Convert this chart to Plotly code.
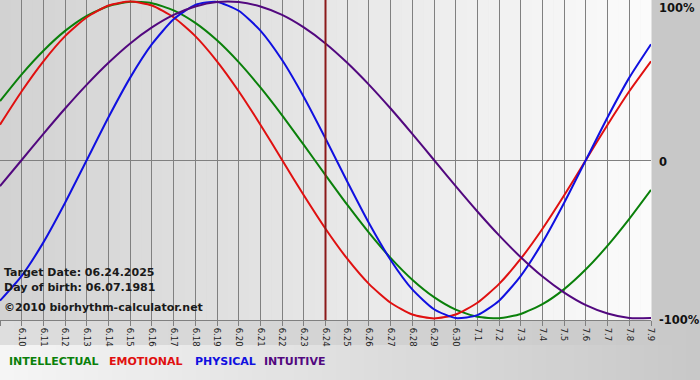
import plotly.graph_objects as go

# ---------------- data ----------------
dates = ["6.9", "6.10", "6.11", "6.12", "6.13", "6.14", "6.15", "6.16", "6.17", "6.18",
         "6.19", "6.20", "6.21", "6.22", "6.23", "6.24", "6.25", "6.26", "6.27", "6.28",
         "6.29", "6.30", "7.1", "7.2", "7.3", "7.4", "7.5", "7.6", "7.7", "7.8", "7.9"]

intellectual = [0.372, 0.541, 0.690, 0.815, 0.910, 0.972, 0.999, 0.990, 0.945, 0.866,
                0.756, 0.618, 0.458, 0.282, 0.095, -0.095, -0.282, -0.458, -0.618, -0.756,
                -0.866, -0.945, -0.990, -0.999, -0.972, -0.910, -0.815, -0.690, -0.541, -0.372,
                -0.189]
emotional = [0.223, 0.434, 0.623, 0.782, 0.901, 0.975, 1.000, 0.975, 0.901, 0.782,
             0.623, 0.434, 0.223, 0.000, -0.223, -0.434, -0.623, -0.782, -0.901, -0.975,
             -1.000, -0.975, -0.901, -0.782, -0.623, -0.434, -0.223, 0.000, 0.223, 0.434,
             0.623]
physical = [-0.888, -0.731, -0.520, -0.270, 0.000, 0.270, 0.520, 0.731, 0.888, 0.979,
            0.998, 0.942, 0.817, 0.631, 0.398, 0.136, -0.136, -0.398, -0.631, -0.817,
            -0.942, -0.998, -0.979, -0.888, -0.731, -0.520, -0.270, 0.000, 0.270, 0.520,
            0.731]
intuitive = [-0.165, 0.000, 0.165, 0.325, 0.476, 0.614, 0.736, 0.837, 0.916, 0.969,
             0.997, 0.997, 0.969, 0.916, 0.837, 0.736, 0.614, 0.476, 0.325, 0.165,
             0.000, -0.165, -0.325, -0.476, -0.614, -0.736, -0.837, -0.916, -0.969, -0.997,
             -0.997]

series_names = ["INTELLECTUAL", "EMOTIONAL", "PHYSICAL", "INTUITIVE"]
target_date = "6.24"
info_lines = ["Target Date: 06.24.2025", "Day of birth: 06.07.1981",
              "\u00a92010 biorhythm-calculator.net"]
right_tick_vals = [1, 0, -1]
right_tick_text = ["100%", "0", "-100%"]

# ---------------- styling ----------------
W, H = 700, 380
PW, PH = 651, 320          # plot area in pixels
colors = ["#0a800a", "#e01010", "#1010e0", "#52087f"]
FONT = "DejaVu Sans"

x = list(range(len(dates)))
series = [intellectual, emotional, physical, intuitive]

fig = go.Figure()
for name, vals, col in zip(series_names, series, colors):
    fig.add_trace(go.Scatter(x=x, y=vals, mode="lines", name=name,
                             line=dict(color=col, width=2, shape="spline", smoothing=0.6),
                             hoverinfo="skip"))

ti = dates.index(target_date)
fig.add_trace(go.Scatter(x=[ti, ti], y=[-1.02, 1.02], mode="lines",
                         line=dict(color="#8b1a1a", width=2), hoverinfo="skip"))


def px_x(px):
    return px / PW


def px_y(py):
    return (PH - py) / PH


def grey(v):
    v = int(round(v))
    return f"rgb({v},{v},{v})"


shapes = []
# plot-area horizontal gradient (grey -> white)
n = 60
for i in range(n):
    x0 = PW * i / n
    x1 = PW * (i + 1) / n + 0.5
    c = 210 + (251 - 210) * (i + 0.5) / n
    shapes.append(dict(type="rect", xref="paper", yref="paper", layer="below",
                       x0=px_x(x0), x1=px_x(x1), y0=0, y1=1,
                       fillcolor=grey(c), line=dict(width=0)))
# bottom strips
for (ya, yb, ca, cb) in [(PH, 345, 222, 200), (345, H, 245, 200)]:
    m = 50
    for i in range(m):
        x0 = W * i / m
        x1 = W * (i + 1) / m + 0.5
        c = ca + (cb - ca) * (i + 0.5) / m
        shapes.append(dict(type="rect", xref="paper", yref="paper", layer="below",
                           x0=px_x(x0), x1=px_x(x1), y0=px_y(yb), y1=px_y(ya),
                           fillcolor=grey(c), line=dict(width=0)))

annotations = []
# right axis labels
for v, t in zip(right_tick_vals, right_tick_text):
    if v == 1:
        annotations.append(dict(x=1, xref="paper", y=1, yref="paper", text=t,
                                xanchor="left", yanchor="top", xshift=6, yshift=1,
                                showarrow=False,
                                font=dict(family=FONT, size=11.5, color="#111111", weight="bold")))
    else:
        annotations.append(dict(x=1, xref="paper", y=v, yref="y", text=t,
                                xanchor="left", yanchor="middle", xshift=6, yshift=-1.5,
                                showarrow=False,
                                font=dict(family=FONT, size=11.5, color="#111111", weight="bold")))
# info text
for txt, cy in zip(info_lines, [272.5, 287, 307]):
    annotations.append(dict(x=px_x(2), xref="paper", y=px_y(cy), yref="paper", text=txt,
                            xanchor="left", yanchor="middle", showarrow=False,
                            font=dict(family=FONT, size=11, color="#1a1a1a", weight="bold")))
# legend words
for name, col, lx in zip(series_names, colors, [7, 107, 193, 262]):
    annotations.append(dict(x=px_x(lx), xref="paper", y=px_y(361), yref="paper", text=name,
                            xanchor="left", yanchor="middle", showarrow=False,
                            font=dict(family=FONT, size=11, color=col, weight="bold")))

fig.update_layout(
    width=W, height=H,
    margin=dict(l=0, r=W - PW, t=0, b=H - PH),
    paper_bgcolor="#c8c8c8",
    plot_bgcolor="rgba(0,0,0,0)",
    showlegend=False,
    shapes=shapes,
    annotations=annotations,
    xaxis=dict(range=[0, len(dates) - 1], tickmode="array", tickvals=x, ticktext=dates,
               tickangle=90, tickfont=dict(family=FONT, size=8.5, color="#222222"),
               showgrid=True, gridcolor="#808080", gridwidth=1,
               ticks="outside", ticklen=5, tickcolor="#808080",
               showline=True, linecolor="#808080", linewidth=1, mirror=True,
               zeroline=False, fixedrange=True),
    yaxis=dict(range=[-1.01, 1.01], showgrid=False, showticklabels=False,
               zeroline=True, zerolinecolor="#808080", zerolinewidth=1,
               showline=False, fixedrange=True),
)

fig.write_html("out.html", config={"displayModeBar": False},
               post_script="document.body.style.margin='0';document.body.style.overflow='hidden';")
